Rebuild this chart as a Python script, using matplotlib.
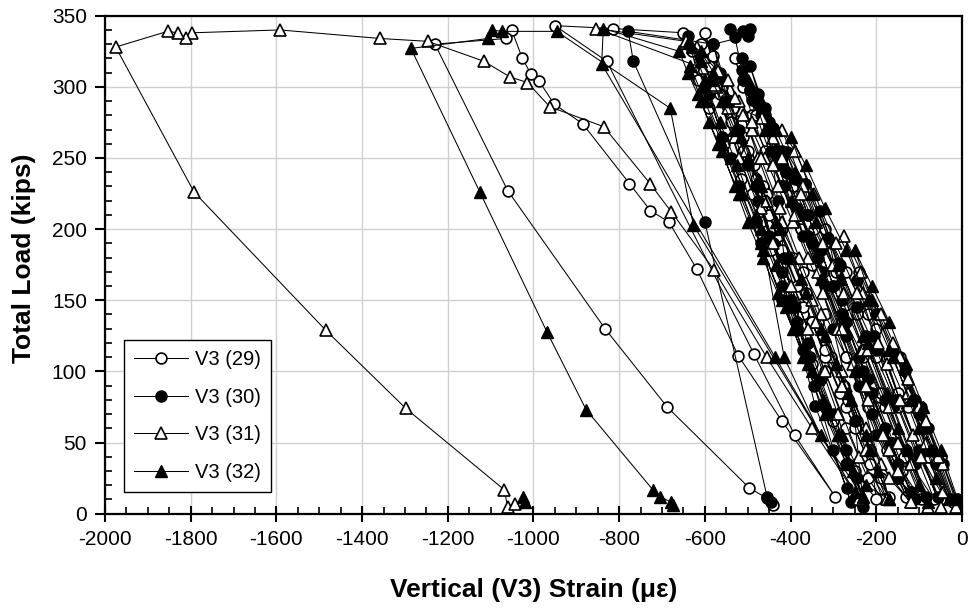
import numpy as np
import matplotlib
matplotlib.use("Agg")
import matplotlib.pyplot as plt
from matplotlib.ticker import MultipleLocator

plt.rcParams['font.family'] = ['Liberation Sans', 'DejaVu Sans']
plt.rcParams['axes.unicode_minus'] = False

# V3 (29) - open circles
s29_x = [0, -10, -50, -95, -145, -115, -75, -20,
         -60, -105, -150, -195, -240, -200, -150, -95, -40,
         -80, -125, -175, -220, -270, -320, -366, -320, -260, -190, -120, -65,
         -105, -150, -200, -245, -295, -345, -395, -430, -460, -410, -350, -280, -200, -140, -95,
         -135, -180, -230, -280, -325, -375, -420, -460, -490, -510, -530, -480, -420, -350, -270, -200, -130,
         -175, -220, -270, -320, -370, -420, -465, -505, -540, -565, -585, -600, -560, -500, -430, -350, -270, -210, -170,
         -190, -215, -245, -275, -305, -335, -365, -395, -425, -455, -485, -510, -535, -560, -580,
         -540, -500, -460, -415, -370, -320, -270, -220, -185,
         -215, -250, -285, -320, -350, -385, -420, -450, -480, -510, -540, -565, -590, -610,
         -575, -535, -490, -445, -400, -350, -300, -250, -200,
         -215, -265, -320, -370, -420, -470, -515, -555, -590, -615, -630, -650, -814, -950, -829, -485, -390, -296,
         -420, -522, -619, -684, -727, -776, -885, -952, -987, -1006, -1026, -1051, -1063, -1230,
         -1060, -833, -688, -496, -456, -440]
s29_y = [0, 8, 40, 75, 110, 75, 40, 8,
         40, 75, 110, 140, 170, 130, 85, 40, 10,
         40, 75, 110, 140, 170, 200, 232, 190, 140, 85, 35, 10,
         40, 75, 110, 140, 170, 200, 230, 255, 280, 240, 190, 135, 75, 30, 10,
         40, 75, 110, 140, 170, 200, 230, 255, 280, 300, 320, 280, 230, 175, 110, 55, 12,
         45, 75, 110, 140, 170, 200, 230, 255, 280, 300, 320, 338, 300, 250, 195, 135, 75, 30, 12,
         25, 45, 65, 90, 110, 135, 155, 180, 200, 225, 245, 265, 285, 305, 322,
         290, 255, 220, 180, 140, 100, 60, 25, 10,
         35, 60, 85, 110, 135, 160, 185, 210, 235, 255, 275, 295, 315, 330,
         300, 265, 225, 185, 145, 105, 65, 30, 10,
         45, 80, 115, 145, 175, 205, 235, 260, 285, 305, 325, 338, 341, 343, 318, 112, 55, 12,
         65, 111, 172, 205, 213, 232, 274, 288, 304, 309, 320, 340, 334, 330,
         227, 130, 75, 18, 11, 6]

# V3 (30) - filled circles
s30_x = [0, -12, -45, -80, -110, -133, -100, -60, -25,
         -70, -115, -160, -200, -246, -205, -155, -100, -55,
         -100, -150, -200, -245, -290, -331, -285, -225, -160, -110, -85,
         -130, -180, -230, -280, -312, -366, -409, -360, -300, -230, -165, -120,
         -150, -180, -210, -240, -270, -300, -330, -360, -390, -420, -450, -475, -495,
         -460, -420, -375, -330, -285, -240, -195, -150, -120,
         -165, -215, -270, -320, -370, -415, -440, -460, -410, -350, -280, -210, -150, -110,
         -160, -220, -280, -335, -385, -430, -470, -495, -514, -470, -420, -360, -300, -250, -230,
         -245, -270, -300, -330, -360, -390, -420, -450, -475, -500, -525, -545, -565, -580,
         -555, -520, -480, -440, -400, -355, -310, -265, -235,
         -270, -320, -370, -420, -470, -520, -560, -590, -610, -640, -600, -540, -480, -420, -386, -343, -269, -260,
         -300, -345, -385, -415, -430, -445, -476, -491, -495, -510, -514, -530, -541, -510, -495, -500,
         -580, -779, -767, -600, -455, -445]
s30_y = [0, 10, 35, 60, 80, 100, 70, 35, 10,
         45, 80, 115, 140, 164, 125, 80, 40, 12,
         45, 80, 115, 145, 176, 213, 175, 125, 75, 35, 12,
         45, 80, 115, 150, 194, 232, 254, 210, 160, 100, 50, 15,
         35, 60, 85, 110, 135, 160, 185, 210, 235, 255, 275, 295, 315,
         285, 250, 210, 170, 130, 90, 55, 25, 15,
         50, 85, 125, 160, 195, 230, 271, 279, 240, 190, 130, 70, 25, 10,
         50, 95, 140, 180, 215, 250, 280, 298, 320, 285, 245, 195, 130, 65, 5,
         25, 45, 70, 95, 120, 145, 170, 195, 220, 245, 270, 290, 310, 330,
         305, 270, 230, 190, 150, 110, 70, 35, 8,
         35, 75, 115, 150, 190, 230, 265, 295, 320, 336, 300, 250, 205, 160, 129, 76, 18, 8,
         45, 90, 135, 180, 220, 255, 288, 291, 298, 305, 312, 335, 341, 339, 341, 336,
         330, 339, 318, 205, 12, 8]

# V3 (31) - open triangles
s31_x = [0, -10, -45, -85, -125, -160, -125, -85, -45, -15,
         -55, -100, -145, -190, -235, -275, -230, -175, -115, -50,
         -95, -145, -195, -245, -295, -345, -390, -420, -370, -300, -230, -150, -80,
         -120, -170, -220, -275, -325, -375, -420, -441, -467, -514, -475, -420, -350, -270, -190, -120,
         -150, -185, -220, -255, -290, -325, -360, -395, -430, -460, -490, -520, -545,
         -510, -470, -425, -380, -330, -280, -225, -170, -120,
         -170, -225, -280, -335, -390, -440, -490, -530, -573, -530, -470, -400, -320, -240, -175,
         -225, -280, -340, -400, -455, -505, -545, -569, -601, -619, -644, -853, -604, -577,
         -520, -440, -360, -290, -240,
         -350, -456, -578, -678, -728, -836, -962, -1014, -1055, -1116, -1247, -1358, -1592,
         -1796, -1810, -1830, -1854, -1975, -1792, -1485, -1298, -1069, -1060, -1043]
s31_y = [0, 5, 35, 65, 95, 120, 85, 50, 15, 5,
         40, 75, 110, 140, 170, 195, 155, 105, 55, 5,
         40, 80, 120, 155, 190, 225, 255, 270, 230, 175, 115, 50, 5,
         35, 75, 115, 155, 190, 225, 250, 264, 278, 284, 250, 205, 150, 90, 35, 8,
         30, 55, 80, 105, 130, 155, 180, 205, 230, 250, 270, 290, 305,
         280, 250, 215, 180, 140, 100, 60, 25, 8,
         45, 90, 130, 170, 210, 245, 275, 292, 300, 265, 215, 160, 100, 40, 10,
         45, 90, 135, 180, 220, 255, 285, 311, 321, 328, 332, 341, 313, 301,
         250, 190, 130, 70, 10,
         60, 110, 171, 212, 232, 272, 286, 303, 307, 318, 332, 334, 340,
         338, 334, 338, 339, 328, 226, 129, 74, 17, 5, 7]

# V3 (32) - filled triangles
s32_x = [0, -10, -50, -90, -130, -170, -210, -250, -210, -160, -100, -60, -30,
         -75, -120, -170, -220, -270, -320, -365, -400, -350, -290, -220, -150, -100, -80,
         -125, -175, -230, -285, -340, -390, -435, -470, -500, -460, -400, -330, -250, -170,
         -195, -225, -260, -295, -330, -365, -400, -435, -470, -500, -530, -560, -585, -610, -630,
         -600, -565, -525, -480, -435, -385, -335, -280, -225, -170,
         -215, -265, -320, -375, -425, -475, -515, -550, -580, -610, -640, -600, -540, -470, -415, -330, -230,
         -255, -290, -325, -360, -395, -430, -465, -500, -530, -560, -590, -615, -635,
         -600, -560, -515, -470, -420, -370, -320, -270, -230,
         -290, -350, -410, -465, -520, -570, -610, -640, -660, -837, -841, -436, -250,
         -627, -681, -946, -1074, -1098, -1106, -1286, -1125, -969, -877, -722, -705, -678, -675,
         np.nan, -1024, -1020]
s32_y = [0, 10, 45, 75, 105, 135, 160, 185, 150, 110, 60, 25, 10,
         45, 80, 115, 150, 185, 215, 245, 265, 225, 175, 120, 60, 20, 8,
         45, 85, 125, 165, 205, 240, 270, 290, 305, 270, 220, 165, 100, 10,
         30, 55, 80, 105, 130, 155, 180, 205, 230, 250, 270, 290, 305, 318, 328,
         305, 275, 245, 210, 175, 135, 95, 55, 20, 10,
         45, 85, 125, 165, 200, 235, 265, 290, 310, 325, 331, 300, 250, 200, 110, 55, 12,
         30, 55, 80, 105, 130, 155, 180, 205, 230, 255, 275, 295, 315,
         290, 260, 225, 190, 150, 110, 70, 35, 12,
         55, 100, 145, 185, 225, 260, 290, 310, 325, 341, 316, 110, 15,
         203, 285, 339, 339, 340, 334, 327, 226, 128, 73, 17, 12, 8, 6,
         np.nan, 12, 8]

labels = ['V3 (29)', 'V3 (30)', 'V3 (31)', 'V3 (32)']

fig = plt.figure(figsize=(9.73, 6.09), dpi=100)
ax = fig.add_axes([0.1079, 0.1565, 0.8808, 0.8177])

ax.plot(s29_x, s29_y, color='black', lw=0.75, marker='o', ms=7.8, mfc='white', mec='black', mew=1.2, label=labels[0])
ax.plot(s30_x, s30_y, color='black', lw=0.75, marker='o', ms=8.0, mfc='black', mec='black', mew=1.0, label=labels[1])
ax.plot(s31_x, s31_y, color='black', lw=0.75, marker='^', ms=9.3, mfc='white', mec='black', mew=1.2, label=labels[2])
ax.plot(s32_x, s32_y, color='black', lw=0.75, marker='^', ms=9.3, mfc='black', mec='black', mew=1.0, label=labels[3])

ax.set_xlim(-2000, 0)
ax.set_ylim(0, 350)
ax.xaxis.set_major_locator(MultipleLocator(200))
ax.xaxis.set_minor_locator(MultipleLocator(50))
ax.yaxis.set_major_locator(MultipleLocator(50))
ax.yaxis.set_minor_locator(MultipleLocator(10))
ax.grid(True, which='major', color='#d0d0d0', lw=1.0)
ax.set_axisbelow(True)

for sp in ax.spines.values():
    sp.set_linewidth(1.6)

ax.tick_params(axis='x', which='major', direction='inout', length=12, width=1.5, labelsize=15, pad=6)
ax.tick_params(axis='x', which='minor', direction='in', length=5, width=1.2)
ax.tick_params(axis='y', which='major', direction='out', length=7, width=1.5, labelsize=15, pad=6)
ax.tick_params(axis='y', which='minor', direction='in', length=5, width=1.2)

ax.set_xlabel('Vertical (V3) Strain (\u03bc\u03b5)', fontsize=19, fontweight='bold')
ax.set_ylabel('Total Load (kips)', fontsize=19, fontweight='bold')
ax.xaxis.set_label_coords(0.5, -0.13)
ax.yaxis.set_label_coords(-0.08, 0.513)

leg = ax.legend(loc='lower left', bbox_to_anchor=(0.022, 0.0436), borderaxespad=0,
                fancybox=False, edgecolor='black', framealpha=1, fontsize=14.5,
                handlelength=2.7, handletextpad=0.35, labelspacing=0.92, borderpad=0.5)
leg.get_frame().set_linewidth(1.0)

fig.savefig('out.png', dpi=100)
